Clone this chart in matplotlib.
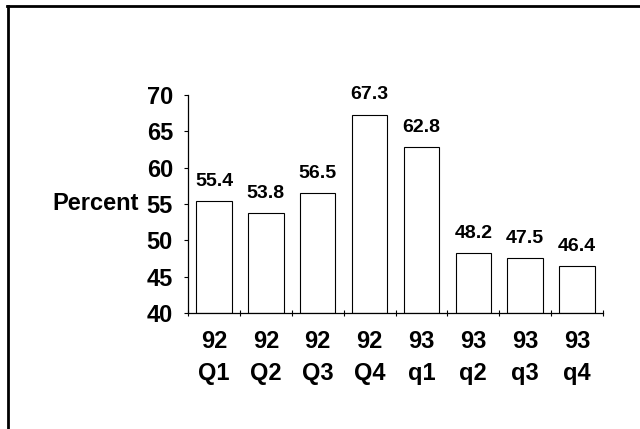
import matplotlib.pyplot as plt
from matplotlib.lines import Line2D

quarters = ["92\nQ1", "92\nQ2", "92\nQ3", "92\nQ4", "93\nq1", "93\nq2", "93\nq3", "93\nq4"]
percent = [55.4, 53.8, 56.5, 67.3, 62.8, 48.2, 47.5, 46.4]
yticks = [40, 45, 50, 55, 60, 65, 70]

plt.rcParams['font.family'] = ['Liberation Sans', 'DejaVu Sans']
plt.rcParams['font.weight'] = 'bold'

fig = plt.figure(figsize=(6.4, 4.29), dpi=100)
ax = fig.add_axes([0.294, 0.2704, 0.648, 0.5082])

base = 40
x = range(len(percent))
bars = ax.bar(x, [p - base for p in percent], bottom=base, width=0.68,
              color='white', edgecolor='black', linewidth=0.8)

for xi, p in zip(x, percent):
    ax.annotate(f"{p:.1f}", (xi, p), xytext=(0, 8), textcoords='offset points',
                ha='center', va='bottom', fontsize=14, fontweight='bold')

ax.set_xlim(-0.5, len(percent) - 0.5)
ax.set_ylim(40, 70)
ax.set_yticks(yticks)
ax.set_yticklabels([str(t) for t in yticks], fontsize=17, fontweight='bold')

# category labels under each bar, tick marks at the boundaries
ax.set_xticks(list(x))
ax.set_xticklabels(quarters, fontsize=17, fontweight='bold', linespacing=1.5)
ax.tick_params(axis='x', which='major', length=0, pad=12)
ax.set_xticks([i - 0.5 for i in range(len(percent) + 1)], minor=True)
ax.tick_params(axis='x', which='minor', length=4, width=0.8, direction='inout')
ax.tick_params(axis='y', length=3, width=0.8, pad=8)

ax.set_ylabel("Percent", rotation=0, fontsize=17, fontweight='bold',
              ha='right', va='center')
ax.yaxis.set_label_coords(-0.118, 0.5)

for s in ['top', 'right']:
    ax.spines[s].set_visible(False)
for s in ['left', 'bottom']:
    ax.spines[s].set_linewidth(0.9)

# page border (top and left edges only visible)
fig.add_artist(Line2D([7 / 640, 1.0], [1 - 6.3 / 429, 1 - 6.3 / 429],
                      transform=fig.transFigure, color='black', linewidth=2))
fig.add_artist(Line2D([7.7 / 640, 7.7 / 640], [0, 1 - 6.3 / 429],
                      transform=fig.transFigure, color='black', linewidth=2))

fig.savefig("out.png", dpi=100)
